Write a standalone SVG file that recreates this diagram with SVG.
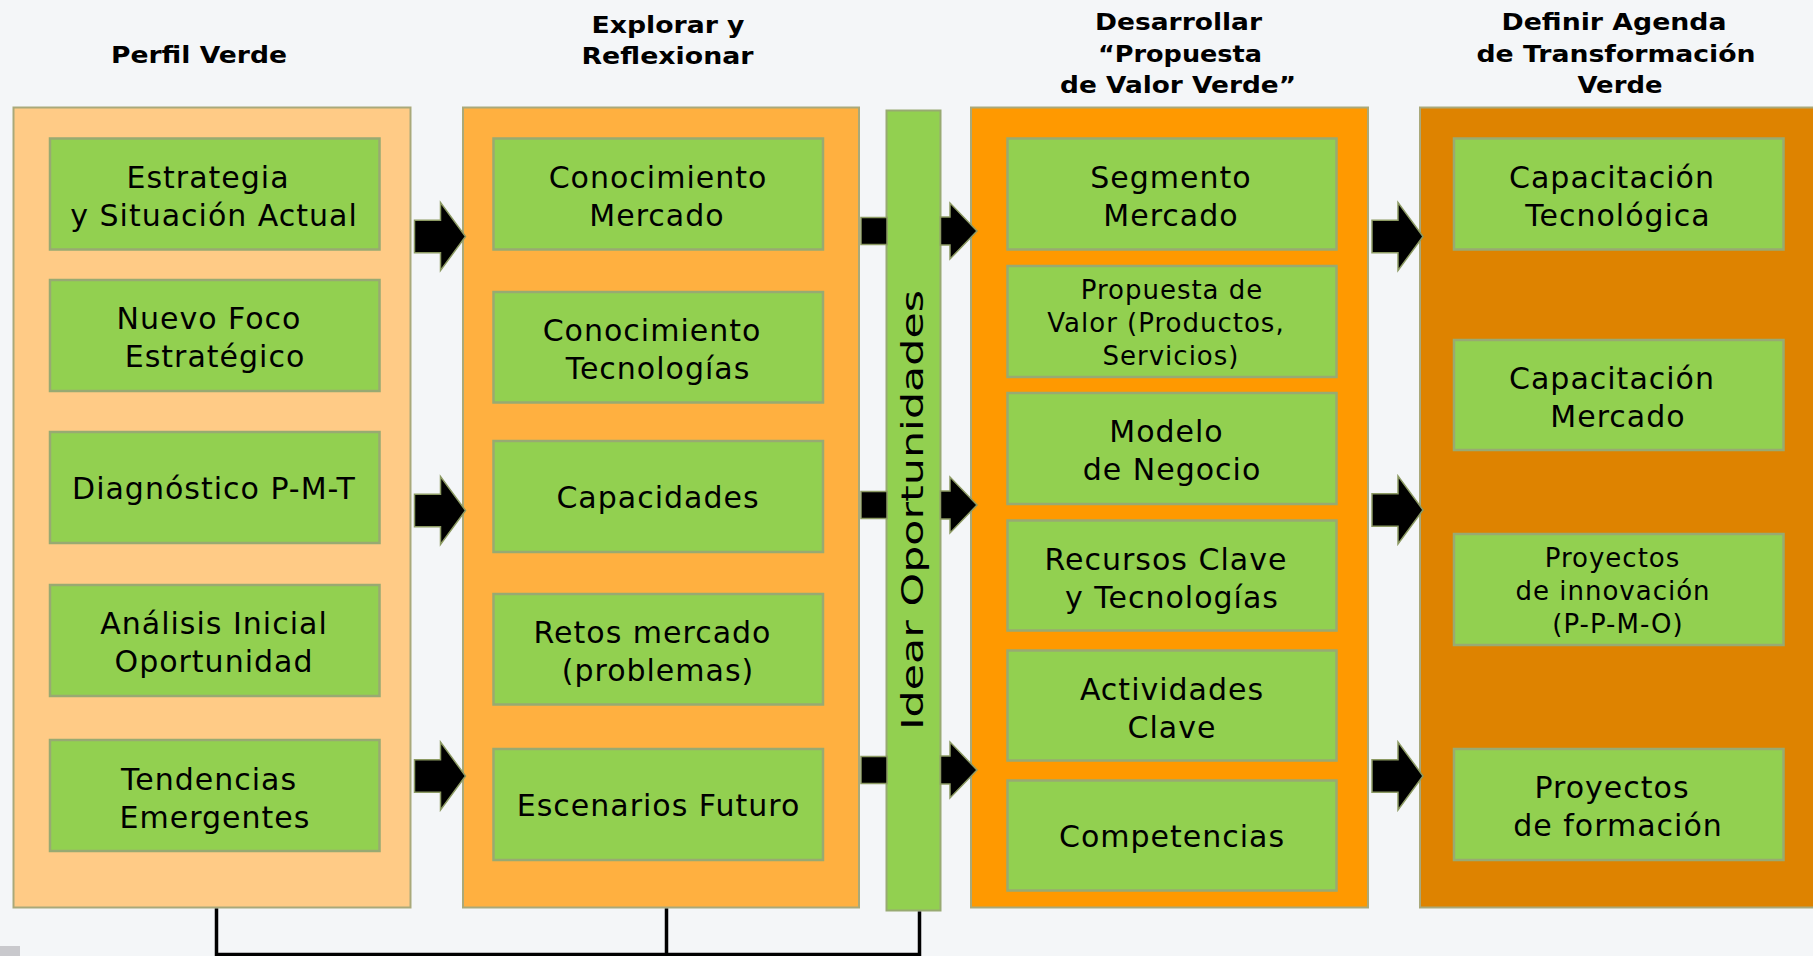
<svg xmlns="http://www.w3.org/2000/svg" xmlns:xlink="http://www.w3.org/1999/xlink" width="1813" height="956" viewBox="0 0 1813 956">
<style>
.bg{fill:#f4f6f8}
.col{stroke:#a9a97a;stroke-width:2}
.c1{fill:#ffcb86}
.c2{fill:#ffb040}
.c3{fill:#ff9900}
.c4{fill:#de8300}
.box{fill:#92d050;stroke:#98aa72;stroke-width:2.5}
.t{font-family:"DejaVu Sans",Verdana,sans-serif;font-size:30px;letter-spacing:1px;fill:#000;text-anchor:middle}
.ts{font-size:26px}
.h{font-family:"DejaVu Sans","Liberation Sans",sans-serif;font-weight:bold;font-size:23px;fill:#000;text-anchor:middle}
.arr{fill:#000;stroke:#8c9a63;stroke-width:1.5;stroke-linejoin:miter}
.line{fill:none;stroke:#000;stroke-width:3.5}
</style>
<defs>
<polygon id="bigArrow" class="arr" points="0,-16.3 26,-16.3 26,-34 51,0 26,34 26,16.3 0,16.3"/>
<polygon id="barArrow" class="arr" points="0,-14 9.5,-14 9.5,-28 36.5,0 9.5,28 9.5,14 0,14"/>
<rect id="barBlock" class="arr" x="0" y="-13.5" width="26" height="27"/>
</defs>
<rect class="bg" x="0" y="0" width="1813" height="956"/>
<rect x="0" y="946" width="20" height="10" fill="#c9c9cd"/>

<g id="headers">
<text class="h" x="199" y="63" textLength="176" lengthAdjust="spacingAndGlyphs">Perfil Verde</text>
<text class="h" x="668" y="33" textLength="153" lengthAdjust="spacingAndGlyphs">Explorar y</text>
<text class="h" x="667.5" y="64" textLength="172" lengthAdjust="spacingAndGlyphs">Reflexionar</text>
<text class="h" x="1178.5" y="29.5" textLength="167" lengthAdjust="spacingAndGlyphs">Desarrollar</text>
<text class="h" x="1180" y="62" textLength="164" lengthAdjust="spacingAndGlyphs">“Propuesta</text>
<text class="h" x="1178" y="93" textLength="236" lengthAdjust="spacingAndGlyphs">de Valor Verde”</text>
<text class="h" x="1614" y="29.5" textLength="225" lengthAdjust="spacingAndGlyphs">Definir Agenda</text>
<text class="h" x="1616" y="62" textLength="279" lengthAdjust="spacingAndGlyphs">de Transformación</text>
<text class="h" x="1620" y="93" textLength="85" lengthAdjust="spacingAndGlyphs">Verde</text>
</g>

<g id="perfil-verde">
<rect class="col c1" x="13.5" y="107.5" width="397" height="800"/>
<g id="estrategia"><rect class="box" x="50" y="138.5" width="329.5" height="111"/>
<text class="t" x="208" y="187.5">Estrategia</text><text class="t" x="214" y="225.5">y Situación Actual</text></g>
<g id="nuevo-foco"><rect class="box" x="50" y="280" width="329.5" height="111"/>
<text class="t" x="209" y="329">Nuevo Foco</text><text class="t" x="215" y="367">Estratégico</text></g>
<g id="diagnostico"><rect class="box" x="50" y="432" width="329.5" height="111"/>
<text class="t" x="214" y="498.5">Diagnóstico P-M-T</text></g>
<g id="analisis"><rect class="box" x="50" y="585" width="329.5" height="111"/>
<text class="t" x="214" y="634">Análisis Inicial</text><text class="t" x="214" y="672">Oportunidad</text></g>
<g id="tendencias"><rect class="box" x="50" y="740" width="329.5" height="111"/>
<text class="t" x="209" y="789.5">Tendencias</text><text class="t" x="215" y="827.5">Emergentes</text></g>
</g>

<g id="explorar">
<rect class="col c2" x="463" y="107.5" width="396" height="800"/>
<g id="conoc-mercado"><rect class="box" x="493.5" y="138.5" width="329.5" height="111"/>
<text class="t" x="658" y="187.5">Conocimiento</text><text class="t" x="657" y="225.5">Mercado</text></g>
<g id="conoc-tecno"><rect class="box" x="493.5" y="292" width="329.5" height="110.5"/>
<text class="t" x="652" y="341">Conocimiento</text><text class="t" x="658" y="379">Tecnologías</text></g>
<g id="capacidades"><rect class="box" x="493.5" y="441" width="329.5" height="111"/>
<text class="t" x="658" y="508">Capacidades</text></g>
<g id="retos"><rect class="box" x="493.5" y="594" width="329.5" height="110.5"/>
<text class="t" x="652.5" y="643">Retos mercado</text><text class="t" x="658" y="681">(problemas)</text></g>
<g id="escenarios"><rect class="box" x="493.5" y="749" width="329.5" height="111"/>
<text class="t" x="658.5" y="816">Escenarios Futuro</text></g>
</g>

<g id="desarrollar">
<rect class="col c3" x="971" y="107.5" width="397" height="800"/>
<g id="segmento"><rect class="box" x="1007.5" y="138.5" width="329" height="111"/>
<text class="t" x="1171" y="187.5">Segmento</text><text class="t" x="1171" y="225.5">Mercado</text></g>
<g id="propuesta"><rect class="box" x="1007.5" y="266" width="329" height="111"/>
<text class="t ts" x="1172" y="299">Propuesta de</text><text class="t ts" x="1166" y="332">Valor (Productos,</text><text class="t ts" x="1171" y="365">Servicios)</text></g>
<g id="modelo"><rect class="box" x="1007.5" y="393" width="329" height="111"/>
<text class="t" x="1166.5" y="442">Modelo</text><text class="t" x="1172" y="480">de Negocio</text></g>
<g id="recursos"><rect class="box" x="1007.5" y="520.5" width="329" height="110"/>
<text class="t" x="1166" y="569.5">Recursos Clave</text><text class="t" x="1172" y="607.5">y Tecnologías</text></g>
<g id="actividades"><rect class="box" x="1007.5" y="650.5" width="329" height="110"/>
<text class="t" x="1172" y="699.5">Actividades</text><text class="t" x="1172" y="737.5">Clave</text></g>
<g id="competencias"><rect class="box" x="1007.5" y="780.5" width="329" height="110"/>
<text class="t" x="1172" y="847">Competencias</text></g>
</g>

<g id="agenda">
<rect class="col c4" x="1420" y="107.5" width="400" height="800"/>
<g id="cap-tecno"><rect class="box" x="1454" y="138.5" width="329.5" height="111"/>
<text class="t" x="1612" y="187.5">Capacitación</text><text class="t" x="1618" y="225.5">Tecnológica</text></g>
<g id="cap-mercado"><rect class="box" x="1454" y="340" width="329.5" height="110"/>
<text class="t" x="1612" y="388.5">Capacitación</text><text class="t" x="1618" y="426.5">Mercado</text></g>
<g id="proy-innov"><rect class="box" x="1454" y="534" width="329.5" height="111"/>
<text class="t ts" x="1612.5" y="566.5">Proyectos</text><text class="t ts" x="1613" y="599.5">de innovación</text><text class="t ts" x="1618" y="632.5">(P-P-M-O)</text></g>
<g id="proy-form"><rect class="box" x="1454" y="749" width="329.5" height="111"/>
<text class="t" x="1612" y="798">Proyectos</text><text class="t" x="1618" y="836">de formación</text></g>
</g>

<g id="idear">
<rect x="886.5" y="110.5" width="54" height="800" fill="#92d050" stroke="#98aa72" stroke-width="2"/>
<text transform="translate(923,510) rotate(-90)" x="0" y="0" font-family="DejaVu Sans, Verdana, sans-serif" font-size="31" text-anchor="middle" textLength="440" lengthAdjust="spacingAndGlyphs">Idear Oportunidades</text>
</g>

<g id="connectors">
<use xlink:href="#bigArrow" x="414.5" y="236.5"/>
<use xlink:href="#bigArrow" x="414.5" y="510.5"/>
<use xlink:href="#bigArrow" x="414.5" y="776"/>
<use xlink:href="#barBlock" x="861" y="231"/>
<use xlink:href="#barBlock" x="861" y="505"/>
<use xlink:href="#barBlock" x="861" y="770"/>
<use xlink:href="#barArrow" x="940.5" y="231"/>
<use xlink:href="#barArrow" x="940.5" y="505"/>
<use xlink:href="#barArrow" x="940.5" y="770"/>
<use xlink:href="#bigArrow" x="1372" y="236.5"/>
<use xlink:href="#bigArrow" x="1372" y="510"/>
<use xlink:href="#bigArrow" x="1372" y="776"/>
<path class="line" d="M216.5,908.5 V954.5 H919.5 V911.5 M666.5,908.5 V954.5"/>
</g>
</svg>
